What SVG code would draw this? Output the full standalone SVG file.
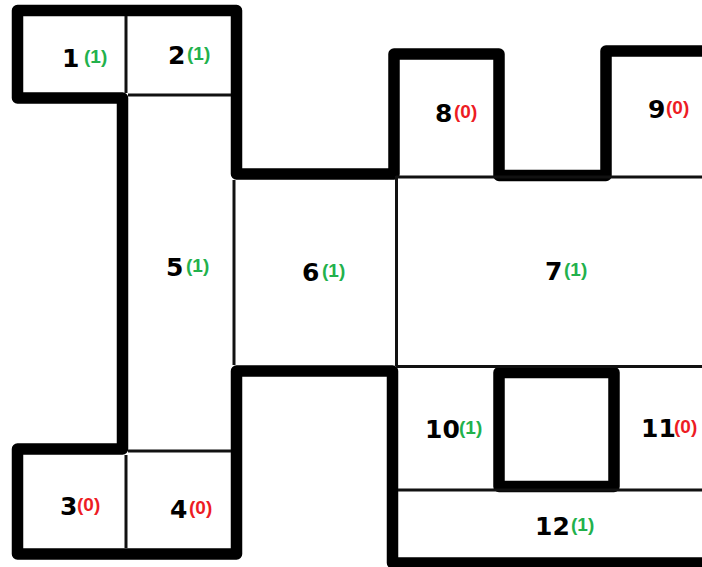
<svg xmlns="http://www.w3.org/2000/svg" width="702" height="567" viewBox="0 0 702 567">
<style>
.wall{fill:none;stroke:#000;stroke-width:11.5;stroke-linejoin:round;stroke-linecap:square}
.thin{fill:none;stroke:#111;stroke-width:3}
.n{font-family:"DejaVu Sans","Liberation Sans",sans-serif;font-weight:bold;font-size:25px;fill:#000}
.g{font-family:"Liberation Sans",Arial,sans-serif;font-weight:bold;font-size:19px;fill:#22b14c}
.r{font-family:"Liberation Sans",Arial,sans-serif;font-weight:bold;font-size:19px;fill:#ed1c24}
</style>
<rect width="702" height="567" fill="#fff"/>
<g id="walls">
<path class="wall" d="M708 51 L606 51 L606 175.5 L499 175.5 L499 54 L394 54 L394 174 L236.5 174 L236.5 10.5 L17.5 10.5 L17.5 98 L122.5 98 L122.5 449 L17.5 449 L17.5 554 L236.5 554 L236.5 371 L392.5 371 L392.5 563 L708 563"/>
<rect class="wall" x="499" y="372.5" width="115" height="114"/>
</g>
<g id="partitions">
<line class="thin" x1="126" y1="16" x2="126" y2="93"/>
<line class="thin" x1="128" y1="95" x2="231" y2="95"/>
<line class="thin" x1="128" y1="451" x2="231" y2="451"/>
<line class="thin" x1="126" y1="455" x2="126" y2="548"/>
<line class="thin" x1="234" y1="180" x2="234" y2="365"/>
<line class="thin" x1="396.5" y1="176" x2="396.5" y2="366"/>
<line class="thin" x1="396" y1="177" x2="702" y2="177"/>
<line class="thin" x1="396" y1="366.5" x2="702" y2="366.5"/>
<line class="thin" x1="398" y1="490" x2="702" y2="490"/>
</g>
<g id="room1"><text class="n" x="62" y="67">1</text><text class="g" x="84" y="63">(1)</text></g>
<g id="room2"><text class="n" x="168" y="64">2</text><text class="g" x="187" y="60">(1)</text></g>
<g id="room3"><text class="n" x="60" y="515">3</text><text class="r" x="77" y="511">(0)</text></g>
<g id="room4"><text class="n" x="170" y="518">4</text><text class="r" x="189" y="514">(0)</text></g>
<g id="room5"><text class="n" x="166" y="276">5</text><text class="g" x="186" y="272">(1)</text></g>
<g id="room6"><text class="n" x="302" y="281">6</text><text class="g" x="322" y="277">(1)</text></g>
<g id="room7"><text class="n" x="545" y="280">7</text><text class="g" x="564" y="276">(1)</text></g>
<g id="room8"><text class="n" x="435" y="122">8</text><text class="r" x="454" y="118">(0)</text></g>
<g id="room9"><text class="n" x="648" y="118">9</text><text class="r" x="666" y="114">(0)</text></g>
<g id="room10"><text class="n" x="425" y="438">10</text><text class="g" x="459" y="434">(1)</text></g>
<g id="room11"><text class="n" x="641" y="437">11</text><text class="r" x="674" y="433">(0)</text></g>
<g id="room12"><text class="n" x="535" y="535">12</text><text class="g" x="571" y="531">(1)</text></g>
</svg>
